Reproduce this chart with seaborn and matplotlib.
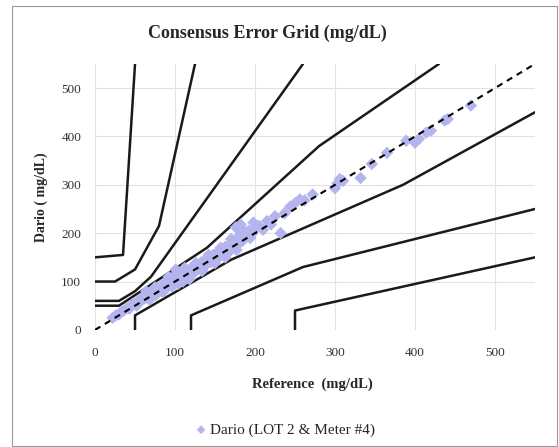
import matplotlib
matplotlib.use("Agg")
import matplotlib.pyplot as plt
import seaborn as sns
import pandas as pd
from matplotlib.patches import Rectangle

# Consensus (Parkes) error grid zone boundaries, type 1
zone_lines = {
    "A_up": ([0, 30, 140, 280, 430], [50, 50, 170, 380, 550]),
    "A_lo": ([50, 50, 170, 385, 550], [0, 30, 145, 300, 450]),
    "B_up": ([0, 30, 50, 70, 260], [60, 60, 80, 110, 550]),
    "B_lo": ([120, 120, 260, 550], [0, 30, 130, 250]),
    "C_up": ([0, 25, 50, 80, 125], [100, 100, 125, 215, 550]),
    "C_lo": ([250, 250, 550], [0, 40, 150]),
    "D_up": ([0, 35, 50], [150, 155, 550]),
}

# readings
reference = [22, 26, 30, 33, 36, 40, 43, 46, 50, 52, 55, 58, 60, 62, 65, 67, 70, 72, 74, 76,
             78, 80, 82, 84, 86, 88, 90, 92, 94, 96, 98, 100, 101, 103, 105, 108, 110, 113, 116, 118,
             120, 123, 125, 128, 130, 133, 135, 138, 140, 143, 145, 148, 150, 153, 155, 158, 160, 163,
             165, 168, 170, 172, 175, 176, 178, 180, 182, 183, 185, 188, 192, 196, 200, 205, 210, 215,
             220, 225, 232, 237, 244, 250, 256, 262, 272, 300, 303, 306, 310, 332, 346, 365, 389, 400,
             405, 414, 420, 437, 441, 470,
             64, 68, 75, 85, 92, 97, 104, 112, 118, 126, 134, 142, 150, 157, 163, 170, 177, 186, 194, 198]
dario = [25, 30, 32, 38, 40, 45, 44, 52, 55, 50, 62, 60, 68, 65, 72, 70, 78, 75, 82, 72,
         85, 80, 90, 86, 95, 84, 98, 92, 102, 90, 108, 96, 125, 120, 105, 112, 100, 118, 110, 125,
         115, 130, 120, 135, 126, 140, 130, 145, 136, 150, 140, 155, 145, 160, 150, 165, 158, 172,
         160, 175, 165, 180, 170, 212, 190, 178, 218, 200, 185, 195, 205, 198, 210, 215, 207, 225,
         218, 235, 200, 241, 255, 262, 270, 268, 280, 293, 303, 312, 308, 314, 343, 366, 391, 387,
         395, 408, 412, 433, 436, 464,
         80, 62, 88, 78, 110, 100, 95, 128, 105, 138, 122, 155, 138, 170, 150, 188, 165, 205, 190, 222]
series_label = "Dario (LOT 2 & Meter #4)"

sns.set_style("white")
plt.rcParams["font.family"] = ["Liberation Serif", "DejaVu Serif"]

fig = plt.figure(figsize=(5.59, 4.47), dpi=100)
ax = fig.add_axes([0.170, 0.262, 0.787, 0.595])

for name, (xs, ys) in zone_lines.items():
    sns.lineplot(x=xs, y=ys, sort=False, estimator=None, color="#1a1a1a", lw=1.8, ax=ax)

df = pd.DataFrame({"Reference": reference, "Dario": dario})
sns.scatterplot(data=df, x="Reference", y="Dario", marker="D", s=40, color="#b4b4ee",
                edgecolor="none", ax=ax, label=series_label, zorder=3)

sns.lineplot(x=[0, 550], y=[0, 550], color="black", lw=1.5, ax=ax, zorder=4,
             linestyle=(0, (3, 2.5)))

ax.set_xlim(0, 550)
ax.set_ylim(0, 550)
ax.set_xticks(range(0, 501, 100))
ax.set_yticks(range(0, 501, 100))
ax.grid(True, color="#e2e2e2", lw=0.8)
ax.set_axisbelow(True)
for sp in ax.spines.values():
    sp.set_visible(False)
ax.tick_params(length=0, labelsize=9.5, labelcolor="#333333")
ax.tick_params(axis="x", pad=12)
ax.tick_params(axis="y", pad=10)

ax.set_xlabel("Reference  (mg/dL)", fontsize=10.5, fontweight="bold")
ax.xaxis.set_label_coords(0.493, -0.180)
ax.set_ylabel("Dario ( mg/dL)", fontsize=10, fontweight="bold")
ax.yaxis.set_label_coords(-0.108, 0.5)
fig.text(0.478, 0.926, "Consensus Error Grid (mg/dL)", fontsize=13, fontweight="bold",
         ha="center", va="center")

handles, labels = ax.get_legend_handles_labels()
ax.get_legend().remove()
fig.legend(handles, labels, loc="center", bbox_to_anchor=(0.51, 0.038), frameon=False,
           fontsize=11, handlelength=0.8, handletextpad=0.2, markerscale=0.7)

fig.add_artist(Rectangle((0.0215, 0.003), 0.975, 0.984, transform=fig.transFigure,
                         fill=False, edgecolor="#9a9a9a", lw=0.8))

fig.savefig("out.png", dpi=100)
